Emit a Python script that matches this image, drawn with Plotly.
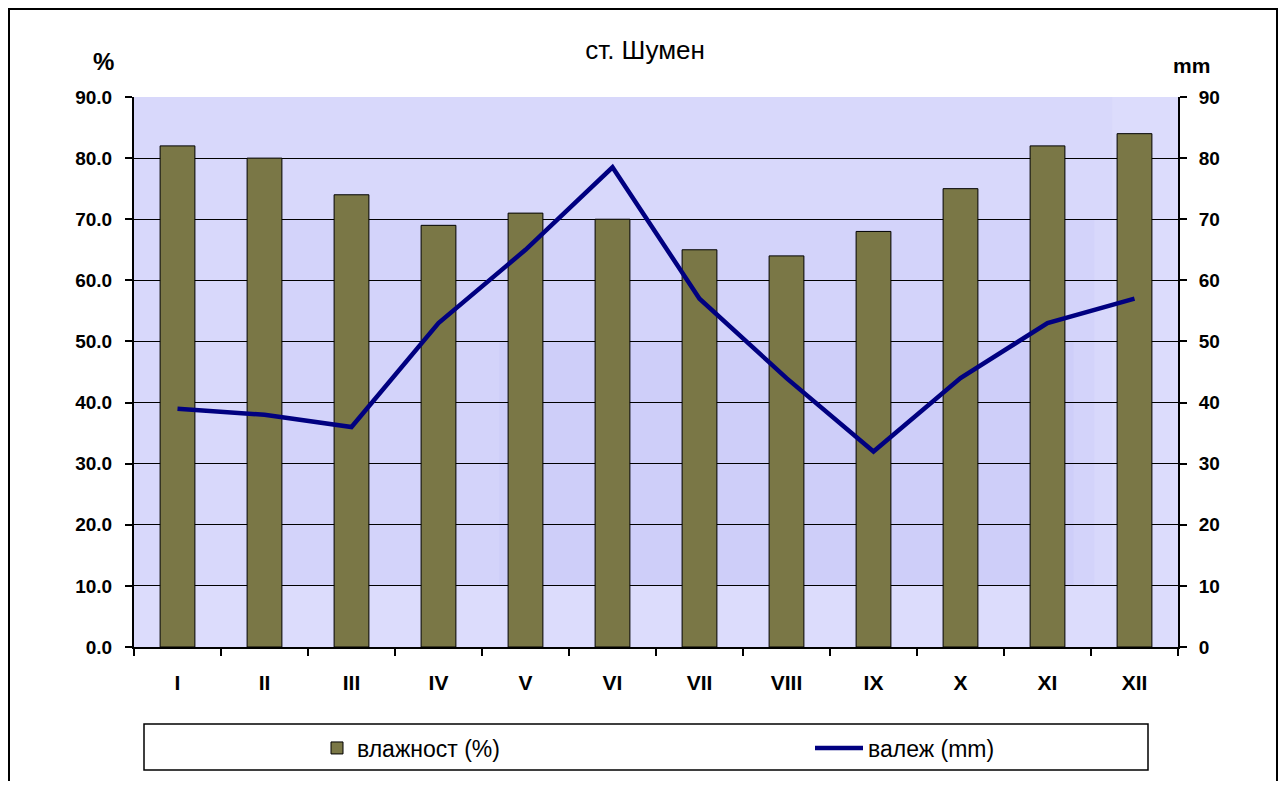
import plotly.graph_objects as go

months = ["I", "II", "III", "IV", "V", "VI", "VII", "VIII", "IX", "X", "XI", "XII"]
humidity = [82, 80, 74, 69, 71, 70, 65, 64, 68, 75, 82, 84]
precip = [39, 38, 36, 53, 65, 78.5, 57, 44, 32, 44, 53, 57]
left_ticks = [0, 10, 20, 30, 40, 50, 60, 70, 80, 90]

OFF = 8  # page body margin offset
W, H = 1286 - 2 * OFF, 789 - 2 * OFF
L, R, T, B = 134 - OFF, 1178 - OFF, 97 - OFF, 647 - OFF
pw, ph = R - L, B - T


def px(x):
    return (x - OFF - L) / pw


def py(y):
    return (B - (y - OFF)) / ph


font_main = "Liberation Sans, Arial, sans-serif"

fig = go.Figure()
fig.add_trace(go.Bar(
    x=months, y=humidity, name="влажност (%)",
    marker=dict(color="#7a7746", line=dict(color="black", width=1)),
    legend="legend",
))
fig.add_trace(go.Scatter(
    x=months, y=precip, name="валеж (mm)", mode="lines",
    line=dict(color="#000080", width=4.5), yaxis="y2",
    legend="legend2",
))

fig.update_layout(
    width=W, height=H,
    margin=dict(l=L, r=W - R, t=T, b=H - B, autoexpand=False),
    paper_bgcolor="white",
    plot_bgcolor="#dcdcfc",
    bargap=0.6,
    font=dict(family=font_main, color="black"),
    title=dict(text="ст. Шумен", x=(645 - OFF) / W, xref="container", xanchor="center",
               y=1 - (50 - OFF) / H, yref="container", yanchor="middle",
               font=dict(size=26, family=font_main, color="black")),
    xaxis=dict(
        type="category", showline=True, linecolor="black", linewidth=2,
        ticks="outside", tickson="boundaries", ticklen=7, tickcolor="black", tickwidth=2,
        tickfont=dict(size=21, family=font_main, weight="bold"),
        ticklabelstandoff=16,
        showgrid=False,
    ),
    yaxis=dict(
        range=[0, 90], tickvals=left_ticks,
        ticktext=[f"{v:.1f}" for v in left_ticks],
        showline=True, linecolor="black", linewidth=2,
        ticks="outside", ticklen=7, tickcolor="black", tickwidth=2,
        showgrid=True, gridcolor="black", gridwidth=1,
        tickfont=dict(size=19, family=font_main, weight="bold"),
        ticklabelstandoff=9,
        zeroline=False,
    ),
    yaxis2=dict(
        range=[0, 90], tickvals=left_ticks, overlaying="y", side="right",
        showline=True, linecolor="black", linewidth=2,
        ticks="outside", ticklen=7, tickcolor="black", tickwidth=2,
        showgrid=False, zeroline=False,
        tickfont=dict(size=19, family=font_main, weight="bold"),
        ticklabelstandoff=8,
    ),
    legend=dict(
        x=px(317), y=py(748), xanchor="left", yanchor="middle",
        bgcolor="rgba(0,0,0,0)", font=dict(size=23, family=font_main),
    ),
    legend2=dict(
        x=px(810), y=py(748), xanchor="left", yanchor="middle", itemwidth=48,
        bgcolor="rgba(0,0,0,0)", font=dict(size=23, family=font_main),
    ),
    showlegend=True,
)

# subtle background shading inside the plot area
for (x0, x1, y0, y1, c) in [
    (0.0, 0.937, 10, 90, "#d8d8fb"),
    (0.12, 0.92, 10, 70, "#d3d3fa"),
    (0.35, 0.90, 10, 50, "#cecef9"),
]:
    fig.add_shape(type="rect", xref="x domain", yref="y", x0=x0, x1=x1, y0=y0, y1=y1,
                  fillcolor=c, line=dict(width=0), layer="below")

# Outer frame and legend box
fig.add_shape(type="rect", xref="paper", yref="paper",
              x0=px(9), x1=px(1277), y0=py(800), y1=py(9),
              line=dict(color="black", width=2), fillcolor="rgba(0,0,0,0)", layer="below")
fig.add_shape(type="rect", xref="paper", yref="paper",
              x0=px(144), x1=px(1148), y0=py(770), y1=py(724),
              line=dict(color="black", width=1.5), fillcolor="rgba(0,0,0,0)")

fig.add_annotation(text="%", xref="paper", yref="paper", x=px(103), y=py(61),
                   xanchor="center", yanchor="middle",
                   showarrow=False, font=dict(size=24, family=font_main, weight="bold"))
fig.add_annotation(text="mm", xref="paper", yref="paper", x=px(1191), y=py(65),
                   xanchor="center", yanchor="middle",
                   showarrow=False, font=dict(size=21, family=font_main, weight="bold"))

fig.write_html("out.html")
